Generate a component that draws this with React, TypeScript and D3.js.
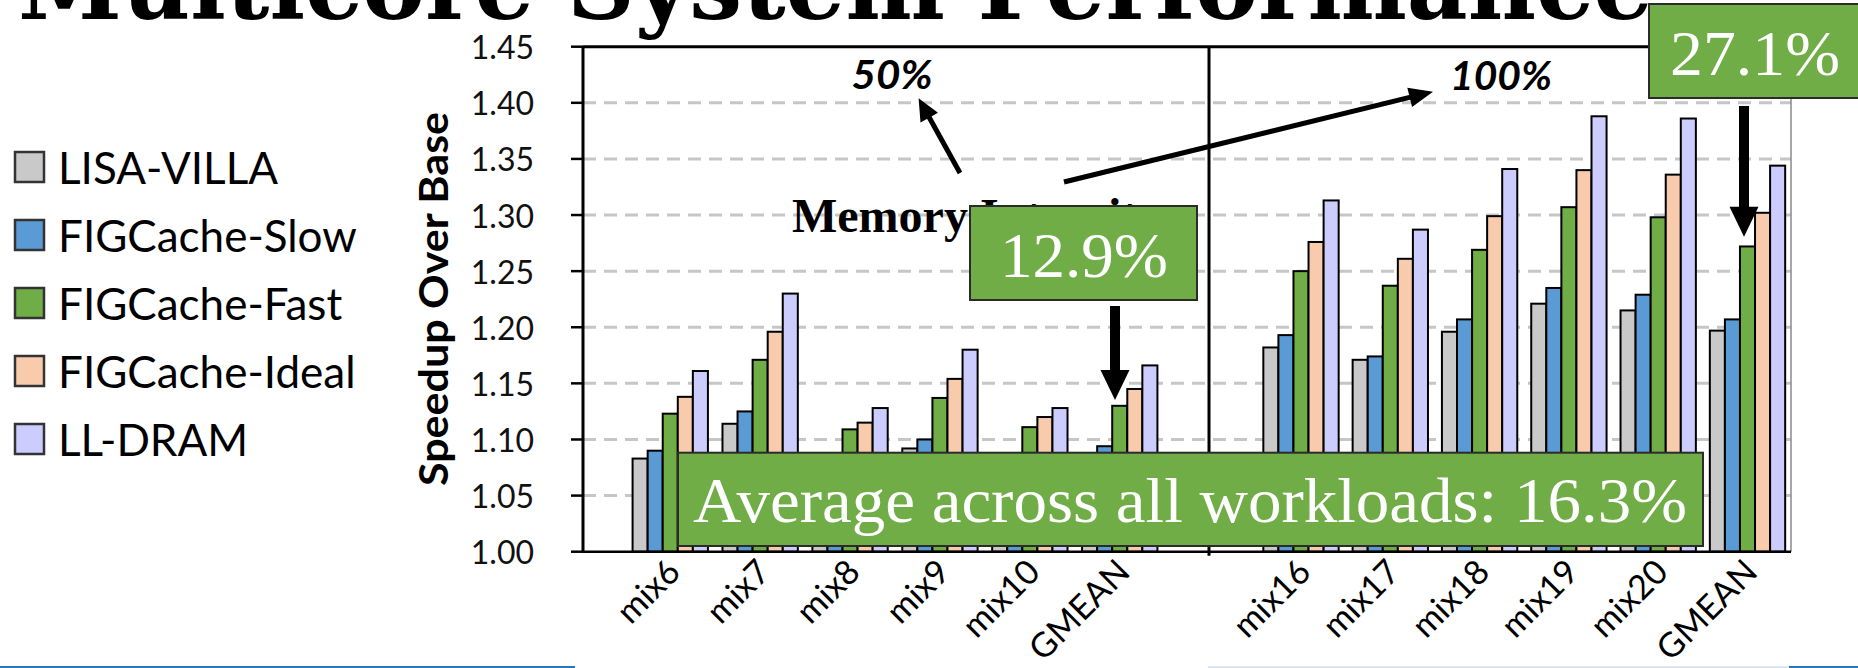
import React from "react";
import * as d3 from "d3";

// ---------- data ----------
const categoriesLeft = ["mix6", "mix7", "mix8", "mix9", "mix10", "GMEAN"];
const categoriesRight = ["mix16", "mix17", "mix18", "mix19", "mix20", "GMEAN"];
const seriesNames = ["LISA-VILLA", "FIGCache-Slow", "FIGCache-Fast", "FIGCache-Ideal", "LL-DRAM"];
const seriesColors = ["#C9C9C9", "#5B9BD5", "#70AD47", "#F8CBAD", "#CCCCFF"];

const lisaLeft = [1.083, 1.114, 1.065, 1.092, 1.07, 1.085];
const slowLeft = [1.09, 1.125, 1.072, 1.1, 1.083, 1.094];
const fastLeft = [1.123, 1.171, 1.109, 1.137, 1.111, 1.13];
const idealLeft = [1.138, 1.196, 1.115, 1.154, 1.12, 1.145];
const lldramLeft = [1.161, 1.23, 1.128, 1.18, 1.128, 1.166];

const lisaRight = [1.182, 1.171, 1.196, 1.221, 1.215, 1.197];
const slowRight = [1.193, 1.174, 1.207, 1.235, 1.229, 1.207];
const fastRight = [1.25, 1.237, 1.269, 1.307, 1.298, 1.272];
const idealRight = [1.276, 1.261, 1.299, 1.34, 1.336, 1.302];
const lldramRight = [1.313, 1.287, 1.341, 1.388, 1.386, 1.344];

const yTicks = [1.0, 1.05, 1.1, 1.15, 1.2, 1.25, 1.3, 1.35, 1.4, 1.45];
const gridLevels = [1.05, 1.1, 1.15, 1.2, 1.25, 1.3, 1.35, 1.4];

const titleText = "Multicore System Performance";
const yAxisTitle = "Speedup Over Base";
const leftPanelLabel = "50%";
const rightPanelLabel = "100%";
const intensityLabel = "Memory Intensity";
const leftCallout = "12.9%";
const rightCallout = "27.1%";
const averageCallout = "Average across all workloads: 16.3%";

// ---------- layout ----------
const W = 1858;
const H = 668;
const plotLeft = 583;
const plotRight = 1791;
const divider = 1209;

const y = d3.scaleLinear().domain([1.0, 1.45]).range([551.7, 46.7]);
const xLeft = d3.scaleBand<string>().domain(categoriesLeft).range([625.3, 1164.7]).paddingInner(0.162).paddingOuter(0.081);
const xRight = d3.scaleBand<string>().domain(categoriesRight).range([1256.1, 1791.9]).paddingInner(0.162).paddingOuter(0.081);
const x1 = d3.scaleBand<number>().domain(d3.range(seriesNames.length)).range([0, xLeft.bandwidth()]);

const leftSeries = [lisaLeft, slowLeft, fastLeft, idealLeft, lldramLeft];
const rightSeries = [lisaRight, slowRight, fastRight, idealRight, lldramRight];

const SANS = "Lato, 'Open Sans', sans-serif";
const SERIF = "'Liberation Serif', 'Times New Roman', serif";

function Bars({ x, cats, series }: { x: d3.ScaleBand<string>; cats: string[]; series: number[][] }) {
  return (
    <g>
      {cats.map((c, ci) => (
        <g key={c + ci} transform={`translate(${x(c)},0)`}>
          {series.map((vals, si) => (
            <rect
              key={si}
              x={x1(si)}
              y={y(vals[ci])}
              width={x1.bandwidth()}
              height={y(1.0) - y(vals[ci])}
              fill={seriesColors[si]}
              stroke="#000"
              strokeWidth={2}
            />
          ))}
        </g>
      ))}
    </g>
  );
}

function XLabels({ x, cats }: { x: d3.ScaleBand<string>; cats: string[] }) {
  return (
    <g>
      {cats.map((c, ci) => {
        const cx = (x(c) as number) + x.bandwidth() / 2 + 12;
        return (
          <text
            key={c + ci}
            transform={`translate(${cx},${574}) rotate(-45)`}
            textAnchor="end"
            fontFamily={SANS}
            fontSize={34}
            fill="#000"
          >
            {c}
          </text>
        );
      })}
    </g>
  );
}

function Arrow({ x0, y0, x1: xe, y1: ye, w, head, headW }: any) {
  const ang = Math.atan2(ye - y0, xe - x0);
  const len = Math.hypot(xe - x0, ye - y0);
  return (
    <g transform={`translate(${x0},${y0}) rotate(${(ang * 180) / Math.PI})`}>
      <line x1={0} y1={0} x2={len - head + 2} y2={0} stroke="#000" strokeWidth={w} />
      <path d={`M${len},0 L${len - head},${-headW / 2} L${len - head},${headW / 2} Z`} fill="#000" />
    </g>
  );
}

export default function App() {
  const legendY = d3.range(seriesNames.length).map((i) => 167 + i * 68);
  return (
    <svg width={W} height={H} style={{ position: "absolute", left: 0, top: 0, background: "#fff" }}>
      <rect x={0} y={0} width={W} height={H} fill="#fff" />
      {/* slide title, cut at the top */}
      <text
        x={18}
        y={19}
        fontFamily="'DejaVu Serif', serif"
        fontWeight="bold"
        fontSize={96}
        textLength={1635}
        lengthAdjust="spacingAndGlyphs"
        fill="#000"
      >
        {titleText}
      </text>

      {/* legend */}
      {seriesNames.map((s, i) => (
        <g key={s}>
          <rect x={15} y={legendY[i] - 15} width={29} height={30} fill={seriesColors[i]} stroke="#333" strokeWidth={2.5} />
          <text x={58} y={legendY[i]} dominantBaseline="central" fontFamily={SANS} fontSize={44} fill="#000">
            {s}
          </text>
        </g>
      ))}

      {/* gridlines */}
      {gridLevels.map((g) => (
        <line key={g} x1={plotLeft} x2={plotRight} y1={y(g)} y2={y(g)} stroke="#C6C6C6" strokeWidth={3} strokeDasharray="13 8" />
      ))}

      {/* bars */}
      <Bars x={xLeft} cats={categoriesLeft} series={leftSeries} />
      <Bars x={xRight} cats={categoriesRight} series={rightSeries} />

      {/* frame */}
      <line x1={plotLeft} x2={plotRight} y1={y(1.45)} y2={y(1.45)} stroke="#000" strokeWidth={3} />
      <line x1={plotRight} x2={plotRight} y1={y(1.45)} y2={y(1.0)} stroke="#888" strokeWidth={1.5} />
      <line x1={divider} x2={divider} y1={y(1.45)} y2={y(1.0) + 4} stroke="#000" strokeWidth={3} />
      <line x1={plotLeft} x2={plotRight} y1={y(1.0)} y2={y(1.0)} stroke="#000" strokeWidth={2.5} />
      <line x1={plotLeft} x2={plotLeft} y1={y(1.45)} y2={y(1.0)} stroke="#000" strokeWidth={3} />

      {/* y ticks */}
      {yTicks.map((t) => (
        <g key={t}>
          <line x1={plotLeft - 12} x2={plotLeft} y1={y(t)} y2={y(t)} stroke="#000" strokeWidth={2.5} />
          <text x={534} y={y(t)} textAnchor="end" dominantBaseline="central" fontFamily={SANS} fontSize={32} fill="#111">
            {d3.format(".2f")(t)}
          </text>
        </g>
      ))}
      <text
        transform={`translate(432,${299}) rotate(-90)`}
        textAnchor="middle"
        dominantBaseline="central"
        fontFamily={SANS}
        fontWeight="bold"
        fontSize={41}
        textLength={374}
        lengthAdjust="spacingAndGlyphs"
        fill="#000"
      >
        {yAxisTitle}
      </text>

      <XLabels x={xLeft} cats={categoriesLeft} />
      <XLabels x={xRight} cats={categoriesRight} />

      {/* annotations */}
      <text x={892} y={89} textAnchor="middle" fontFamily={SANS} fontWeight="bold" fontStyle="italic" fontSize={41} textLength={81} lengthAdjust="spacingAndGlyphs" fill="#000">
        {leftPanelLabel}
      </text>
      <text x={1501} y={90} textAnchor="middle" fontFamily={SANS} fontWeight="bold" fontStyle="italic" fontSize={41} textLength={102} lengthAdjust="spacingAndGlyphs" fill="#000">
        {rightPanelLabel}
      </text>
      <text x={792} y={232} fontFamily={SERIF} fontWeight="bold" fontSize={48} fill="#000">
        {intensityLabel}
      </text>
      <Arrow x0={960} y0={173} x1={918.6} y1={98.3} w={5} head={22} headW={20} />
      <Arrow x0={1064} y0={182} x1={1433} y1={91.7} w={5} head={24} headW={20} />

      {/* 12.9% callout */}
      <rect x={970} y={206} width={227} height={94} fill="#70AD47" stroke="#2b2b2b" strokeWidth={2} />
      <text x={1084} y={277} textAnchor="middle" fontFamily={SERIF} fontSize={64} textLength={168} lengthAdjust="spacingAndGlyphs" fill="#fff">
        {leftCallout}
      </text>
      <Arrow x0={1115} y0={306} x1={1115} y1={400} w={10} head={30} headW={29} />

      {/* 27.1% callout */}
      <rect x={1649} y={4} width={230} height={94} fill="#70AD47" stroke="#2b2b2b" strokeWidth={2} />
      <text x={1755} y={75} textAnchor="middle" fontFamily={SERIF} fontSize={64} textLength={170} lengthAdjust="spacingAndGlyphs" fill="#fff">
        {rightCallout}
      </text>
      <Arrow x0={1744} y0={106} x1={1744} y1={236.7} w={10} head={30} headW={29} />

      {/* average callout */}
      <rect x={678} y={452.7} width={1025} height={93.3} fill="#70AD47" stroke="#2b2b2b" strokeWidth={2} />
      <text x={693} y={522} fontFamily={SERIF} fontSize={64} textLength={994} lengthAdjust="spacingAndGlyphs" fill="#fff">
        {averageCallout}
      </text>

      {/* slide bottom rules */}
      <line x1={0} x2={575} y1={667} y2={667} stroke="#2E75B6" strokeWidth={2} />
      <line x1={1208} x2={1789} y1={667} y2={667} stroke="#DCE6F0" strokeWidth={2} />
      <line x1={1789} x2={W} y1={667} y2={667} stroke="#2E75B6" strokeWidth={2} />
    </svg>
  );
}
